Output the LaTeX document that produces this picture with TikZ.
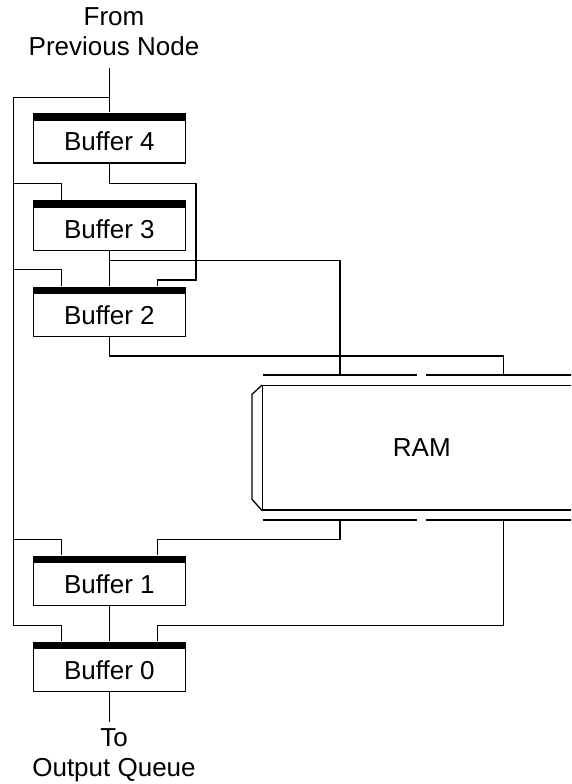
\documentclass[tikz,border=0pt]{standalone}
\usepackage{fontspec}
\setmainfont{Liberation Sans}
\begin{document}
\begin{tikzpicture}[x=1pt,y=-1pt,line width=1.3pt,
  every node/.style={font=\fontsize{26}{30}\selectfont},
  buf/.style={draw, minimum width=152pt, minimum height=43pt, inner sep=0pt, fill=white},
  bufbar/.style={fill=black, minimum width=153.3pt, minimum height=7pt, inner sep=0pt},
  ram/.style={draw, minimum width=318.3pt, minimum height=124.3pt, inner sep=0pt},
  wire/.style={line width=1.3pt, line join=miter},
  lbl/.style={align=center, inner xsep=0pt}]
\useasboundingbox (0,0) rectangle (571,784);
\clip (0,0) rectangle (571,784);
% x reference coordinates
\coordinate (xL) at (13.3,0);
\coordinate (xA) at (61.7,0);
\coordinate (xB) at (157.3,0);
% buffers
\node[bufbar] (b4bar) at (109.3,116.5) {};
\node[buf] (b4) at (109.3,141.5) {Buffer 4};
\node[bufbar] (b3bar) at (109.3,203.8) {};
\node[buf] (b3) at (109.3,228.8) {Buffer 3};
\node[bufbar] (b2bar) at (109.3,290) {};
\node[buf] (b2) at (109.3,315) {Buffer 2};
\node[bufbar] (b1bar) at (109.3,559) {};
\node[buf] (b1) at (109.3,584) {Buffer 1};
\node[bufbar] (b0bar) at (109.3,645) {};
\node[buf] (b0) at (109.3,670) {Buffer 0};
% labels
\node[lbl, inner ysep=11.3pt, anchor=south] (from) at (114,68) {From\\Previous Node};
\node[lbl, inner ysep=6.6pt, anchor=north] (to) at (114,721.7) {To\\Output Queue};
% RAM
\node[ram] (ram) at (421.85,447.85) {RAM};
\draw[wire] (ram.north west) -- ++(-10,9.3) -- ++(0,105) -- (ram.south west);
\coordinate (rt1) at (340,375);
\coordinate (rt2) at (503.3,375);
\coordinate (rb1) at (340,520);
\coordinate (rb2) at (503.3,520);
\draw[wire] (262.7,375) -- (416.7,375) (426,375) -- (575,375);
\draw[wire] (262.7,520) -- (416.7,520) (426,520) -- (575,520);
% connectors
\draw[wire] (from.south -| b4bar.north) -- (b4bar.north);
\draw[wire] (109.3,97.7) -- (13.3,97.7) -- (13.3,625.7) -- (61.7,625.7) -- (xA |- b0bar.north);
\draw[wire] (13.3,183.7) -- (61.7,183.7) -- (xA |- b3bar.north);
\draw[wire] (13.3,269.3) -- (61.7,269.3) -- (xA |- b2bar.north);
\draw[wire] (13.3,539.3) -- (61.7,539.3) -- (xA |- b1bar.north);
\draw[wire] (b4.south) -- (109.3,183.7) -- (196,183.7) -- (196,280) -- (157.3,280) -- (xB |- b2bar.north);
\draw[wire] (b3.south) -- (b2bar.north);
\draw[wire] (109.3,260.3) -- (340,260.3) -- (rt1);
\draw[wire] (b2.south) -- (109.3,356) -- (503.3,356) -- (rt2);
\draw[wire] (rb1) -- (340,539.3) -- (157.3,539.3) -- (xB |- b1bar.north);
\draw[wire] (rb2) -- (503.3,625.7) -- (157.3,625.7) -- (xB |- b0bar.north);
\draw[wire] (b1.south) -- (b0bar.north);
\draw[wire] (b0.south) -- (to.north -| b0.south);
\end{tikzpicture}
\end{document}
